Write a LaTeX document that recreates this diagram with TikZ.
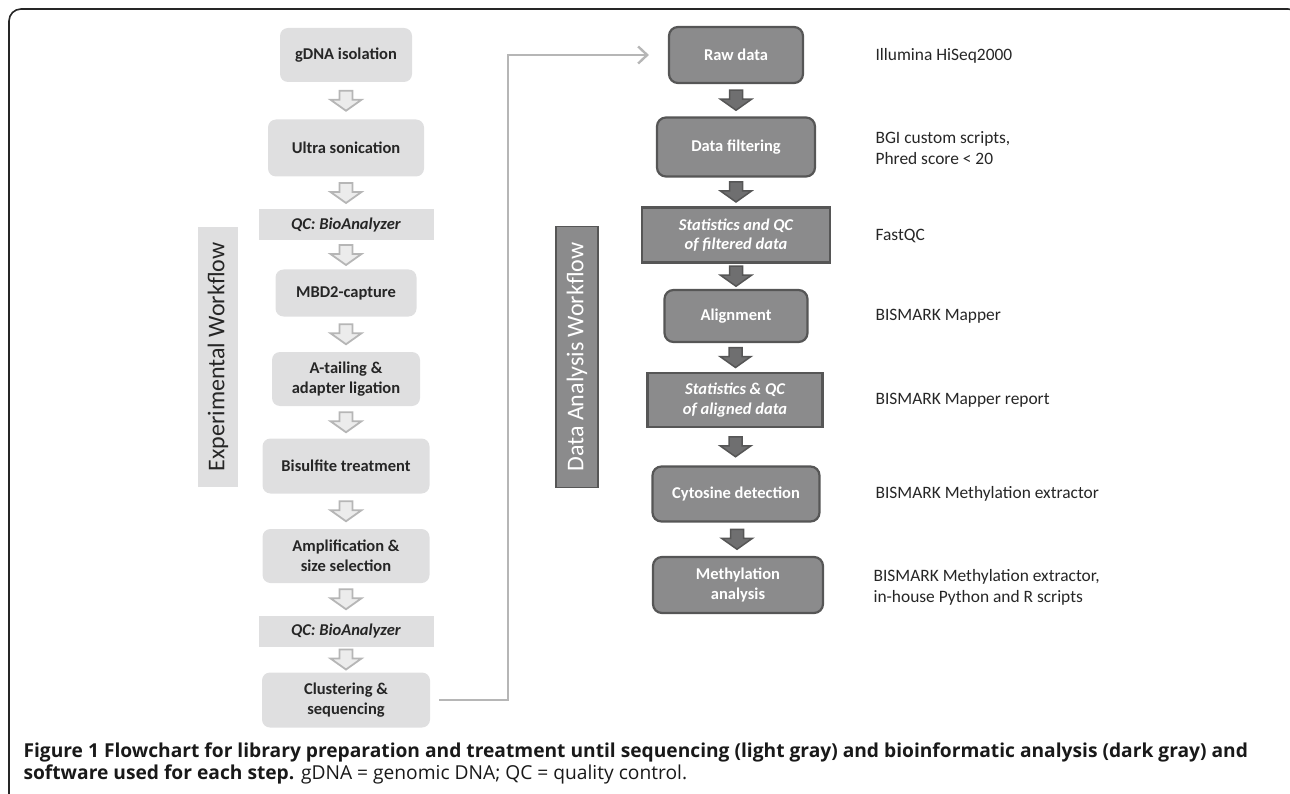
\documentclass[tikz,border=0pt]{standalone}
\usepackage{fontspec}
\setmainfont{Carlito}
\newfontfamily\capfont{Open Sans}
\usetikzlibrary{arrows.meta,calc}

\definecolor{lightbox}{HTML}{DFDFE0}
\definecolor{darkbox}{HTML}{8B8B8C}
\definecolor{darkline}{HTML}{565656}
\definecolor{lightarr}{HTML}{B6B6B6}
\definecolor{textgray}{HTML}{262626}

\tikzset{
    lightstep/.style={fill=lightbox, rounded corners=8pt, inner sep=0pt, align=center,
        text=textgray, font=\fontsize{16.5}{19.5}\selectfont\bfseries},
    lightqc/.style={lightstep, rounded corners=0pt, font=\fontsize{16.5}{19.5}\selectfont\bfseries\itshape},
    darkstep/.style={fill=darkbox, draw=darkline, line width=2.2pt, rounded corners=9pt, inner sep=0pt,
        align=center, text=white, font=\fontsize{16.5}{19.5}\selectfont\bfseries},
    darkqc/.style={darkstep, rounded corners=0pt, font=\fontsize{16.5}{19.5}\selectfont\bfseries\itshape},
    tool/.style={anchor=west, align=left, text=textgray, font=\fontsize{17.4}{21}\selectfont},
    lightarrow/.style={fill=lightbox!60, draw=lightarr, line width=1.8pt, line join=miter},
    darkarrow/.style={fill=darkbox!80!black, draw=darkline, line width=1.5pt, line join=miter},
    flowline/.style={draw=lightarr, line width=2.4pt, -{Straight Barb[length=9pt,width=17pt]}}
}

\begin{document}
\begin{tikzpicture}[x=1pt,y=-1pt]
                \useasboundingbox (0,0) rectangle (1290,794);
                \draw[line width=1.6pt, rounded corners=12pt, draw=black!85] (9,820) -- (9,9) -- (1300,9) -- (1300,820);

                \node[lightstep, minimum width=132, minimum height=54] (gdna) at (346,55) {gDNA isolation};
                \node[lightstep, minimum width=156, minimum height=57] (sonic) at (346,148) {Ultra sonication};
                \node[lightqc, minimum width=175, minimum height=31] (qcone) at (346,225) {QC: BioAnalyzer};
                \node[lightstep, minimum width=141, minimum height=47] (mbd) at (346,293) {MBD2-capture};
                \node[lightstep, minimum width=148, minimum height=54] (atail) at (346,379) {A-tailing \&\\adapter ligation};
                \node[lightstep, minimum width=167, minimum height=55] (bisulf) at (346,466) {Bisulfite treatment};
                \node[lightstep, minimum width=167, minimum height=54] (ampl) at (346,556) {Amplification \&\\size selection};
                \node[lightqc, minimum width=175, minimum height=31] (qctwo) at (346,631) {QC: BioAnalyzer};
                \node[lightstep, minimum width=168, minimum height=55] (clust) at (346,700) {Clustering \&\\sequencing};

                \node[fill=lightbox, minimum width=259, minimum height=40, inner sep=0pt, rotate=90,
                    text=textgray, font=\fontsize{24}{26}\selectfont] (expwf) at (218,357) {Experimental Workflow};
                \node[fill=darkbox, draw=darkline, line width=1.5pt, minimum width=261, minimum height=42, inner sep=0pt,
                    rotate=90, text=white, font=\fontsize{24}{26}\selectfont] (datawf) at (577,357) {Data Analysis Workflow};

                \node[darkstep, minimum width=134, minimum height=56] (raw) at (736,55) {Raw data};
                \node[darkstep, minimum width=158, minimum height=59] (filt) at (736,147) {Data filtering};
                \node[darkqc, minimum width=188, minimum height=55] (statf) at (736,235) {Statistics and QC\\of filtered data};
                \node[darkstep, minimum width=143, minimum height=52] (align) at (736,316) {Alignment};
                \node[darkqc, minimum width=175, minimum height=54] (stata) at (735,400) {Statistics \& QC\\of aligned data};
                \node[darkstep, minimum width=167, minimum height=55] (cyto) at (736,494) {Cytosine detection};
                \node[darkstep, minimum width=170, minimum height=56] (methyl) at (738,585) {Methylation\\analysis};

                \node[tool] (illum) at (872,56) {Illumina HiSeq2000};
                \node[tool] (bgi) at (872,148) {BGI custom scripts,\\Phred score < 20};
                \node[tool] (fastqc) at (872,236) {FastQC};
                \node[tool] (mapper) at (872,316) {BISMARK Mapper};
                \node[tool] (mapperrep) at (872,400) {BISMARK Mapper report};
                \node[tool] (extract) at (872,494) {BISMARK Methylation extractor};
                \node[tool] (extractall) at (870,587) {BISMARK Methylation extractor,\\in-house Python and R scripts};

                \foreach \a/\b in {gdna/sonic, sonic/qcone, qcone/mbd, mbd/atail, atail/bisulf,
                                  bisulf/ampl, ampl/qctwo, qctwo/clust}
                    \draw[lightarrow] ($(\a.south)!0.5!(\b.north)$) ++(-6.5,-10) -- ++(13,0) -- ++(0,9)
                        -- ++(9,0) -- ++(-15.5,11) -- ++(-15.5,-11) -- ++(9,0) -- cycle;

                \foreach \a/\b in {raw/filt, filt/statf, statf/align, align/stata, stata/cyto, cyto/methyl}
                    \draw[darkarrow] ($(\a.south)!0.5!(\b.north)$) ++(-6.5,-10) -- ++(13,0) -- ++(0,9)
                        -- ++(9,0) -- ++(-15.5,11) -- ++(-15.5,-11) -- ++(9,0) -- cycle;

                \coordinate (bend) at (508,400);
                \draw[flowline, shorten <=9pt, shorten >=19pt] (clust.east) -| (bend) |- (raw.west);

                \node[anchor=west, text=black!90, font=\capfont\fontsize{19.2}{22}\selectfont\bfseries] (capone) at (20,752)
                    {Figure 1 Flowchart for library preparation and treatment until sequencing (light gray) and bioinformatic analysis (dark gray) and};
                \node[anchor=west, text=black!90, font=\capfont\fontsize{19.2}{22}\selectfont] (captwo) at (20,774)
                    {\textbf{software used for each step.} gDNA = genomic DNA; QC = quality control.};
            \end{tikzpicture}
\end{document}
